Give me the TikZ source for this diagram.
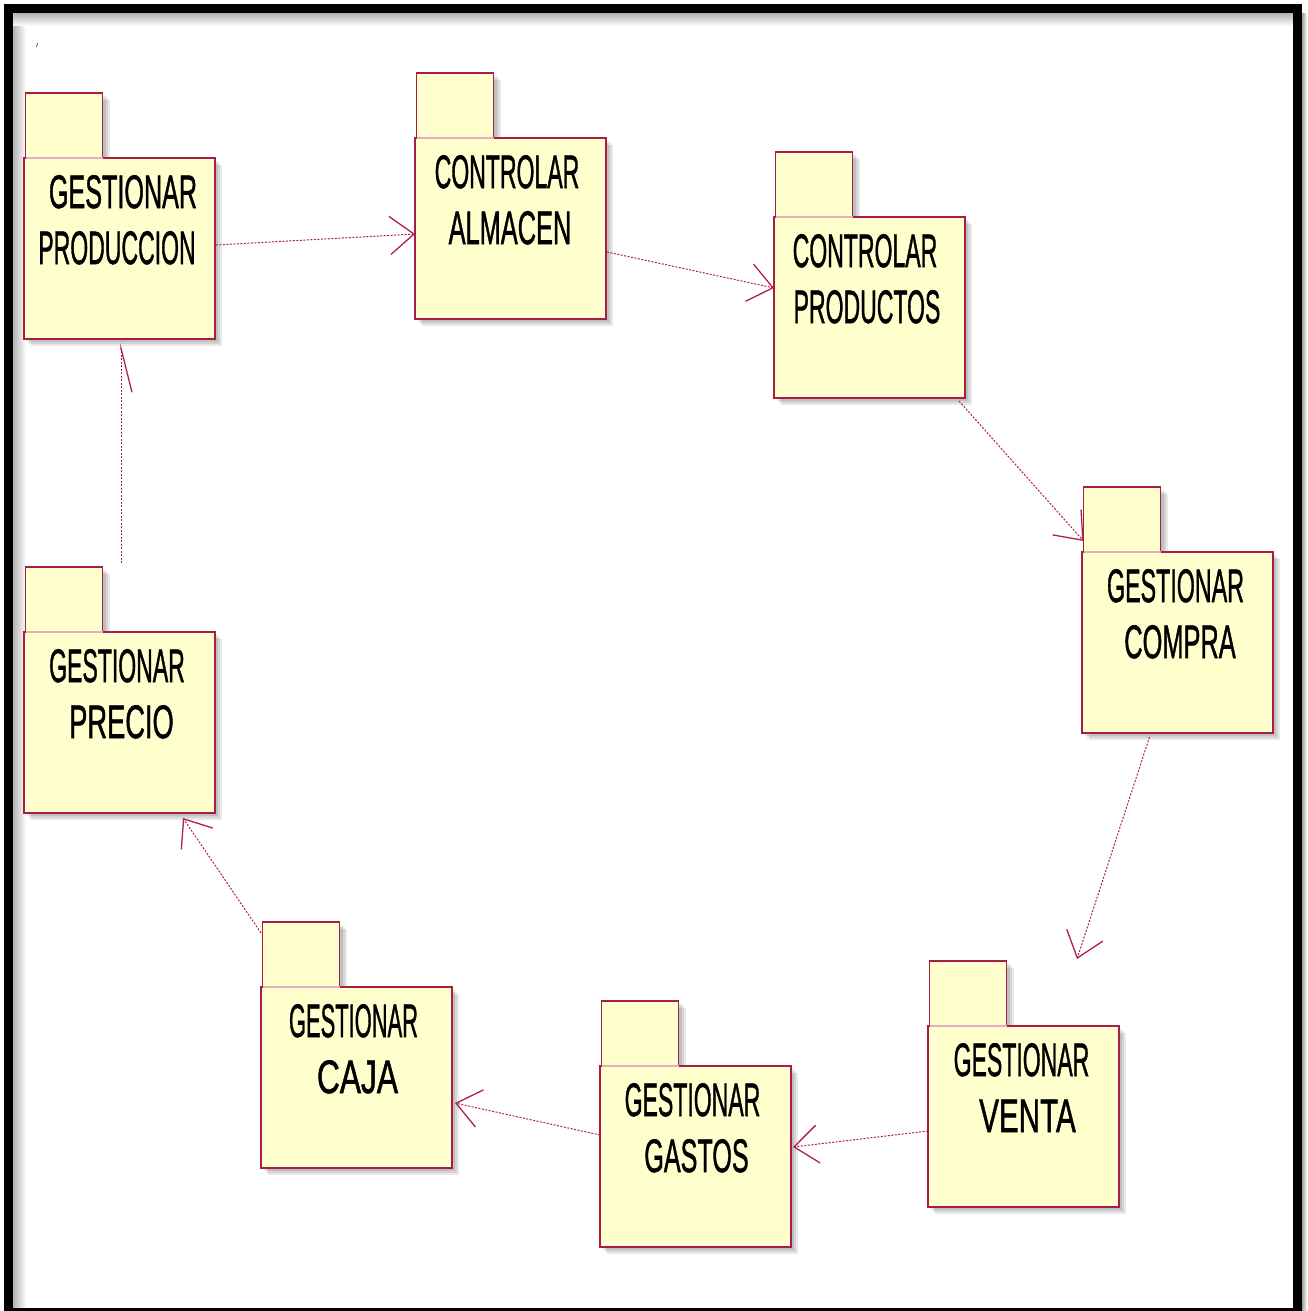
\documentclass[tikz,border=0pt]{standalone}
\usepackage{fontspec}
\setmainfont{Liberation Sans}
\newfontfamily\pkgfont[FakeBold=1.4]{Liberation Sans}
\usetikzlibrary{arrows.meta,calc}

\definecolor{pkgline}{RGB}{168,28,72}
\definecolor{pkgfill}{RGB}{255,255,206}
\definecolor{depline}{RGB}{176,30,80}

\tikzset{
  pkgbody/.style={draw=pkgline, fill=pkgfill, line width=1.3pt,
    minimum width=191pt, minimum height=181pt, anchor=north west,
    inner sep=0pt, outer sep=0pt},
  pkgtab/.style={draw=pkgline, fill=pkgfill, line width=1.3pt,
    minimum width=77pt, minimum height=65pt, anchor=south west,
    inner sep=0pt, outer sep=0pt},
  pkgtext/.style={font=\pkgfont\fontsize{47}{56}\selectfont, anchor=base,
    inner sep=0pt},
  pkgshadow/.style={fill=black, opacity=0.09},
  dep/.style={draw=depline, line width=1pt, dash pattern=on 2pt off 1.5pt,
    -{Straight Barb[length=24pt,width=38pt,line width=1.3pt]}},
  halfdep/.style={draw=depline, line width=1pt, dash pattern=on 2pt off 1.5pt,
    -{Straight Barb[length=44pt,width=22pt,line width=1.3pt,right]}},
}

% package: name, body x, body y (top-left),
%          line 1, its x offset, its width factor, line 2, its x offset, its width factor
\newcommand\umlpkg[9]{%
  \foreach \s in {3,5,7}{%
    \fill[pkgshadow] ({#2+\s},{#3+\s}) rectangle ({#2+191+\s},{#3+181+\s});
    \fill[pkgshadow] ({#2+1.5+\s},{#3-65+\s}) rectangle ({#2+78.5+\s},{#3+\s});
  }
  \node[pkgtab] (#1-tab) at ({#2+1.5},#3) {};
  \node[pkgbody] (#1) at (#2,#3) {};
  \draw[pkgline!35, line width=1.3pt] (#1-tab.south west) -- (#1-tab.south east);
  \node[pkgtext] (#1-l1) at ({#2+95.5+#5},{#3+50}) {\scalebox{#6}[1]{#4}};
  \node[pkgtext] (#1-l2) at ({#2+95.5+#8},{#3+106}) {\scalebox{#9}[1]{#7}};
}

\begin{document}
\begin{tikzpicture}[x=1pt,y=-1pt]
  \useasboundingbox (0,0) rectangle (1307,1311);
  \fill[white] (0,0) rectangle (1307,1311);

  % inner shading of the frame
  \shade[left color=black!30, right color=white] (13,13) rectangle (26,1308);
  \shade[top color=black!30, bottom color=white] (13,13) rectangle (1293,26);
  \shade[left color=black!45, right color=white] (1301,14) rectangle (1307,1311);

  % packages
  \umlpkg{prod}{24}{158}{GESTIONAR}{3.5}{0.535}{PRODUCCION}{-2.5}{0.49}
  \umlpkg{alm}{415}{138}{CONTROLAR}{-3.5}{0.49}{ALMACEN}{-0.5}{0.54}
  \umlpkg{prods}{774}{217}{CONTROLAR}{-4.5}{0.49}{PRODUCTOS}{-2.5}{0.49}
  \umlpkg{compra}{1082}{552}{GESTIONAR}{-2}{0.495}{COMPRA}{2.5}{0.54}
  \umlpkg{venta}{928}{1026}{GESTIONAR}{-2}{0.49}{VENTA}{4}{0.63}
  \umlpkg{gastos}{600}{1066}{GESTIONAR}{-3}{0.49}{GASTOS}{1}{0.535}
  \umlpkg{caja}{261}{987}{GESTIONAR}{-3}{0.466}{CAJA}{1}{0.675}
  \umlpkg{precio}{24}{632}{GESTIONAR}{-2.5}{0.49}{PRECIO}{2}{0.58}

  % free end of the arrow above GESTIONAR VENTA
  \coordinate (ventaIn) at ($(venta-tab.north east)+(70.5,-2)$);

  % dependencies
  \draw[dep] ($(prod.east)+(1,-3.5)$) -- ($(alm.west)+(0,5.5)$);
  \draw[dep] ($(alm.east)+(1,23.5)$) -- ($(prods.west)+(0,-19.5)$);
  \draw[dep] ($(prods.south east)+(-6,3)$) -- ($(compra-tab.south west)+(0,-11)$);
  \draw[dep] ($(compra.south)+(-28,4)$) -- (ventaIn);
  \draw[dep] ($(venta.west)+(0,14.5)$) -- ($(gastos.east)+(2,-9.5)$);
  \draw[dep] ($(gastos.west)+(0,-21.5)$) -- ($(caja.east)+(3,25.5)$);
  \draw[dep] ($(caja-tab.north west)+(-1.5,11)$) -- ($(precio.south)+(63.5,5)$);
  \draw[halfdep] ($(precio.north)+(1.5,-69)$) -- ($(prod.south)+(1.5,4)$);

  % small stray tick near the top left corner
  \draw[depline, line width=0.8pt] (37.5,43) -- (36.5,47);

  % outer frame
  \draw[line width=9pt] (8.5,9) rectangle (1297.5,1312.5);
\end{tikzpicture}
\end{document}
